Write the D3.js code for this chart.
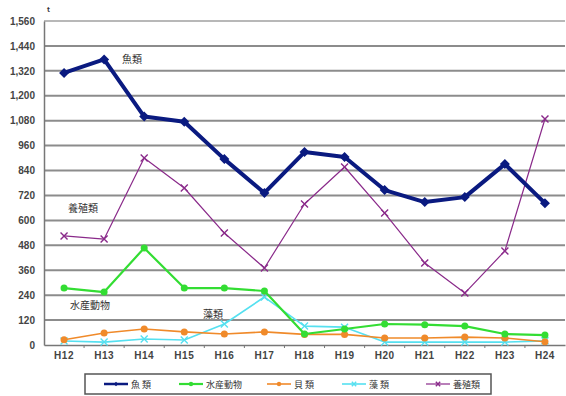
<!DOCTYPE html>
<html>
<head>
<meta charset="utf-8">
<script src="https://cdn.jsdelivr.net/npm/d3@7/dist/d3.min.js"></script>
<style>
  body { margin: 0; background: #fff; }
  svg { display: block; font-family: "Noto Sans CJK JP", "DejaVu Sans", sans-serif; }
</style>
</head>
<body>
<svg id="chart" width="566" height="396"></svg>
<script>
// Fiscal years (Heisei)
const years = ["H12","H13","H14","H15","H16","H17","H18","H19","H20","H21","H22","H23","H24"];
const yTicks = [0,120,240,360,480,600,720,840,960,1080,1200,1320,1440,1560];

// Catch by category (t)
const fish        = [1310,1375,1100,1075,895,732,929,905,746,688,712,871,683];
const aquaAnimals = [274,255,467,274,274,260,53,77,101,98,91,53,48];
const shellfish   = [25,58,77,63,53,63,51,51,34,34,38,34,16];
const seaweed     = [19,14,29,24,101,231,91,86,14,14,14,14,20];
const farmed      = [525,510,900,756,539,371,679,857,635,395,250,453,1088];

const seriesNames = ["魚 類","水産動物","貝 類","藻 類","養殖類"];

const series = [
  {name: seriesNames[0], values: fish,        color: "#0a1a80", width: 4,   marker: "diamond", size: 5},
  {name: seriesNames[1], values: aquaAnimals, color: "#33dd33", width: 2.2, marker: "circle",  size: 3.5},
  {name: seriesNames[2], values: shellfish,   color: "#f08a2a", width: 1.6, marker: "circle",  size: 3.5},
  {name: seriesNames[3], values: seaweed,     color: "#55e0f0", width: 1.6, marker: "cross",   size: 3.5},
  {name: seriesNames[4], values: farmed,      color: "#8a2a8a", width: 1.2, marker: "cross",   size: 3.5}
];

const svg = d3.select("#chart");
const margin = {left: 44, right: 1, top: 21, bottom: 51};
const W = 566, H = 396;

const x = d3.scaleBand().domain(years).range([margin.left, W - margin.right]);
const y = d3.scaleLinear().domain([0, 1560]).range([H - margin.bottom, margin.top]);

// Horizontal gridlines
svg.append("g")
  .selectAll("line")
  .data(yTicks.filter(d => d > 0))
  .join("line")
  .attr("x1", margin.left).attr("x2", W - margin.right)
  .attr("y1", d => y(d)).attr("y2", d => y(d))
  .attr("stroke", d => d === 1560 ? "#b8b8b8" : "#8c8c8c")
  .attr("stroke-width", 2);

// Y axis
const yAxis = svg.append("g")
  .attr("transform", `translate(${margin.left},0)`)
  .call(d3.axisLeft(y).tickValues(yTicks).tickFormat(d3.format(",")).tickSize(0).tickPadding(9));
yAxis.select(".domain").attr("stroke", "#777").attr("stroke-width", 1.5);
yAxis.selectAll("text").attr("font-size", 10).attr("fill", "#444")
  .attr("font-family", "Arial, 'Liberation Sans', sans-serif").attr("font-weight", "bold");

// X axis
const xAxis = svg.append("g")
  .attr("transform", `translate(0,${y(0)})`)
  .call(d3.axisBottom(x).tickSizeInner(0).tickSizeOuter(0).tickPadding(7));
xAxis.select(".domain").attr("stroke", "#777").attr("stroke-width", 1.5);
xAxis.selectAll("text").attr("font-size", 10).attr("fill", "#444")
  .attr("font-family", "Arial, 'Liberation Sans', sans-serif").attr("font-weight", "bold")
  .attr("letter-spacing", 0.5);
// small tick marks between categories
svg.append("g").selectAll("line")
  .data(years.slice(1))
  .join("line")
  .attr("x1", d => x(d)).attr("x2", d => x(d))
  .attr("y1", y(0)).attr("y2", y(0) + 3)
  .attr("stroke", "#777");

// Unit label
svg.append("text").attr("x", 47).attr("y", 12).attr("font-size", 7)
  .attr("fill", "#333").attr("font-weight", "bold").text("t");

const line = d3.line()
  .x((d, i) => x(years[i]) + x.bandwidth() / 2)
  .y(d => y(d));

function drawMarker(g, type, cx, cy, s, color) {
  if (type === "diamond") {
    g.append("path")
      .attr("d", `M${cx},${cy - s}L${cx + s},${cy}L${cx},${cy + s}L${cx - s},${cy}Z`)
      .attr("fill", color);
  } else if (type === "circle") {
    g.append("circle").attr("cx", cx).attr("cy", cy).attr("r", s).attr("fill", color);
  } else {
    g.append("path")
      .attr("d", `M${cx - s},${cy - s}L${cx + s},${cy + s}M${cx - s},${cy + s}L${cx + s},${cy - s}`)
      .attr("stroke", color).attr("stroke-width", 1.4).attr("fill", "none");
  }
}

// Draw thinner series first, fish on top
const drawOrder = [4, 3, 2, 1, 0];
drawOrder.forEach(k => {
  const s = series[k];
  const g = svg.append("g");
  g.append("path").datum(s.values)
    .attr("d", line)
    .attr("fill", "none")
    .attr("stroke", s.color)
    .attr("stroke-width", s.width)
    .attr("stroke-linejoin", "round");
  s.values.forEach((v, i) => {
    drawMarker(g, s.marker, x(years[i]) + x.bandwidth() / 2, y(v), s.size, s.color);
  });
});

// In-chart series labels
const labels = [
  {text: "魚類", x: 122, y: 63},
  {text: "養殖類", x: 68, y: 212},
  {text: "水産動物", x: 70, y: 309},
  {text: "藻類", x: 203, y: 318}
];
svg.append("g").selectAll("text")
  .data(labels)
  .join("text")
  .attr("x", d => d.x).attr("y", d => d.y)
  .attr("font-size", 10).attr("fill", "#333")
  .text(d => d.text);

// Legend
const legend = svg.append("g");
legend.append("rect")
  .attr("x", 85).attr("y", 374).attr("width", 406).attr("height", 20)
  .attr("fill", "#fff").attr("stroke", "#555").attr("stroke-width", 1.5);
const legendX = [104, 179, 267, 342, 426];
series.forEach((s, k) => {
  const lx = legendX[k], ly = 384;
  legend.append("line")
    .attr("x1", lx).attr("x2", lx + 24).attr("y1", ly).attr("y2", ly)
    .attr("stroke", s.color).attr("stroke-width", Math.min(s.width, 2.5));
  drawMarker(legend, s.marker, lx + 12, ly, 2.2, s.color);
  legend.append("text")
    .attr("x", lx + 27).attr("y", ly + 3.5)
    .attr("font-size", 9).attr("fill", "#333")
    .text(s.name);
});
</script>
</body>
</html>
